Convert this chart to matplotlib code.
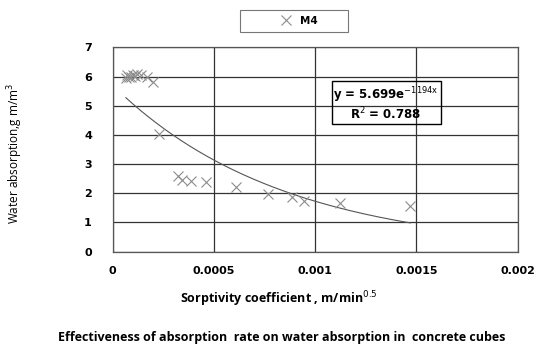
import matplotlib.pyplot as plt
from matplotlib.patches import Rectangle
import numpy as np

# measured points (M4)
sorptivity = [0.000065, 0.00007, 0.00008, 0.00009, 0.0001, 0.00011, 0.00012, 0.00014,
              0.00017, 0.000197, 0.00023, 0.00032, 0.00034, 0.000385, 0.00046,
              0.00061, 0.000765, 0.000885, 0.000947, 0.00112, 0.00147]
absorption = [5.95, 6.05, 6.0, 5.97, 6.05, 6.02, 6.08, 6.05,
              6.0, 5.82, 4.02, 2.6, 2.47, 2.43, 2.38,
              2.2, 1.97, 1.87, 1.75, 1.67, 1.57]

fit_a = 5.699
fit_b = -1194
r_squared = 0.788

xticks = [0, 0.0005, 0.001, 0.0015, 0.002]
xtick_labels = ["0", "0.0005", "0.001", "0.0015", "0.002"]
yticks = [0, 1, 2, 3, 4, 5, 6, 7]


def main():

    fig = plt.figure(figsize=(5.35, 3.52), dpi=100)
    ax = fig.add_axes([0.2107, 0.285, 0.757, 0.5806])

    ax.plot(sorptivity, absorption, linestyle="none", marker="x", markersize=7,
            markeredgewidth=0.8, color="#8c8c8c", label="M4", zorder=3)

    xs = np.linspace(min(sorptivity), max(sorptivity), 200)
    ax.plot(xs, fit_a * np.exp(fit_b * xs), color="#555555", linewidth=0.8, zorder=2)

    ax.set_xlim(0, 0.002)
    ax.set_ylim(0, 7)
    ax.set_xticks(xticks)
    ax.set_xticklabels(xtick_labels)
    ax.set_yticks(yticks)
    ax.tick_params(axis="x", length=0, pad=10, labelsize=8)
    ax.tick_params(axis="y", length=0, pad=15, labelsize=8)
    for lab in ax.get_xticklabels() + ax.get_yticklabels():
        lab.set_fontweight("bold")

    ax.grid(True, color="#333333", linewidth=0.9)
    ax.set_axisbelow(True)
    for s in ax.spines.values():
        s.set_color("#555555")
        s.set_linewidth(0.9)

    eq = "y = %.3fe$^{\\mathrm{%dx}}$\nR$^{2}$ = %.3f" % (fit_a, fit_b, r_squared)
    ax.text(0.00135, 5.06, eq,
            ha="center", va="center", fontsize=8.5, fontweight="bold",
            linespacing=1.0,
            bbox=dict(boxstyle="square,pad=0.15", facecolor="none",
                      edgecolor="black", linewidth=1.0))

    # legend: frameless legend with a box drawn around it
    fig.legend(loc="center", bbox_to_anchor=(298 / 535, 1 - 20.5 / 352),
               frameon=False, prop={"weight": "bold", "size": 7.5},
               handletextpad=0.6, handlelength=1.5)
    fig.patches.append(Rectangle((240 / 535, 1 - 31.5 / 352), 108 / 535, 22 / 352,
                                 transform=fig.transFigure, fill=False,
                                 edgecolor="#777777", linewidth=0.8))

    fig.text(279 / 535, 1 - 299 / 352, "Sorptivity coefficient , m/min$^{0.5}$",
             ha="center", va="center", fontsize=9, fontweight="bold",
             family="Open Sans")
    fig.text(282 / 535, 1 - 337 / 352,
             "Effectiveness of absorption  rate on water absorption in  concrete cubes",
             ha="center", va="center", fontsize=9, fontweight="bold",
             family="Open Sans")
    fig.text(15 / 535, 1 - 153 / 352, "Water absorption,g m/m$^{3}$",
             ha="center", va="center", rotation=90, fontsize=8.5,
             family="Open Sans")

    fig.savefig("out.png", dpi=100)


if __name__ == "__main__":
    main()
